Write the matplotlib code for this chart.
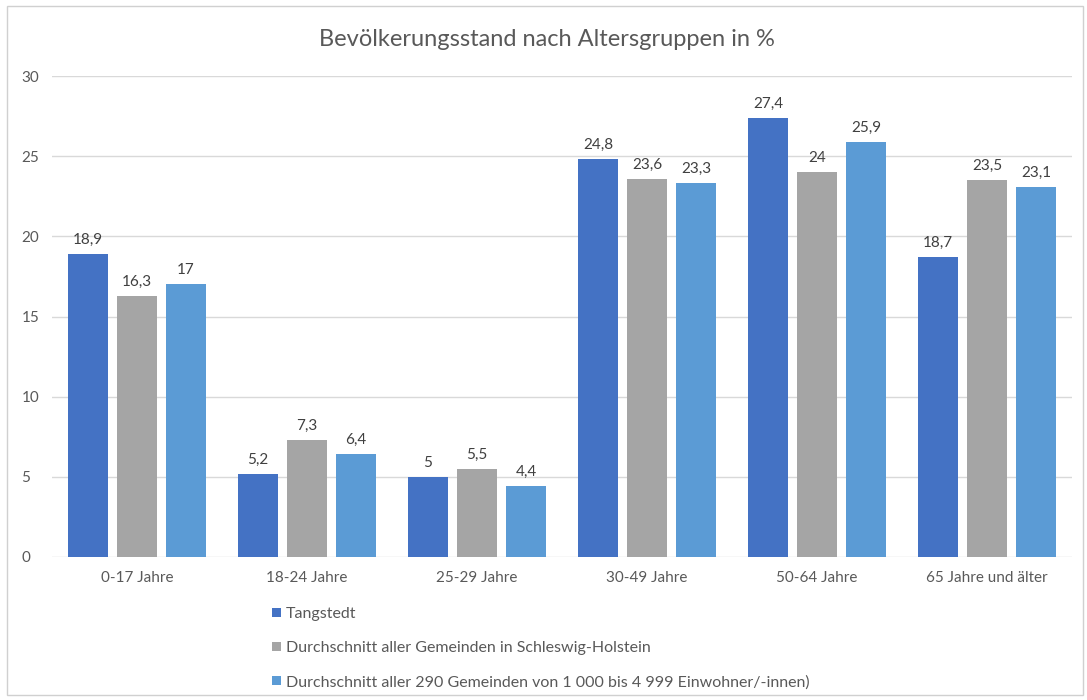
import matplotlib
matplotlib.use("Agg")
import matplotlib.pyplot as plt
from matplotlib.patches import Rectangle, Patch
import numpy as np

categories = ["0-17 Jahre", "18-24 Jahre", "25-29 Jahre", "30-49 Jahre", "50-64 Jahre", "65 Jahre und älter"]
series_names = ["Tangstedt",
                "Durchschnitt aller Gemeinden in Schleswig-Holstein",
                "Durchschnitt aller 290 Gemeinden von 1 000 bis 4 999 Einwohner/-innen)"]
tangstedt = [18.9, 5.2, 5.0, 24.8, 27.4, 18.7]
sh_avg = [16.3, 7.3, 5.5, 23.6, 24.0, 23.5]
group_avg = [17.0, 6.4, 4.4, 23.3, 25.9, 23.1]
colors = ["#4472C4", "#A5A5A5", "#5B9BD5"]
title = "Bevölkerungsstand nach Altersgruppen in %"

plt.rcParams['font.family'] = ['Lato', 'DejaVu Sans']
txt = "#595959"

fig = plt.figure(figsize=(10.87, 7.0), dpi=100)
fig.patches.append(Rectangle((7/1087, 5/700), 1076/1087, 689/700, transform=fig.transFigure,
                             fill=False, edgecolor="#D0D0D0", linewidth=1.0))
ax = fig.add_axes([52/1087, 1-557/700, 1020/1087, 481/700])

x = np.arange(len(categories))
w = 0.235
off = 0.288
for i, (vals, c) in enumerate(zip([tangstedt, sh_avg, group_avg], colors)):
    pos = x + (i - 1) * off
    bars = ax.bar(pos, vals, width=w, color=c, zorder=3)
    for b, v in zip(bars, vals):
        s = ("%g" % v).replace(".", ",")
        ax.text(b.get_x() + b.get_width()/2, v + 0.45, s, ha="center", va="bottom",
                fontsize=11, color="#404040")

ax.set_xlim(-0.5, len(categories) - 0.5)
ax.set_ylim(0, 30)
ax.set_yticks(range(0, 31, 5))
ax.yaxis.grid(True, color="#D9D9D9", linewidth=1, zorder=0)
ax.set_axisbelow(True)
for s in ax.spines.values():
    s.set_visible(False)
ax.tick_params(axis="both", length=0, labelsize=11, labelcolor=txt)
ax.tick_params(axis="x", pad=10)
ax.set_xticks(x)
ax.set_xticklabels(categories)
for lab in ax.get_yticklabels():
    lab.set_horizontalalignment("left")
ax.yaxis.set_tick_params(pad=22)

fig.text(547/1087, 1-40/700, title, ha="center", va="center", fontsize=17, color=txt)

handles = [Patch(facecolor=c) for c in colors]
fig.legend(handles, series_names, loc="upper left", bbox_to_anchor=(272/1087, 1-607/700),
           frameon=False, fontsize=11.5, labelcolor=txt, handlelength=0.55, handleheight=0.55,
           handletextpad=0.3, labelspacing=1.25, borderaxespad=0, borderpad=0)

fig.savefig("out.png", dpi=100)
